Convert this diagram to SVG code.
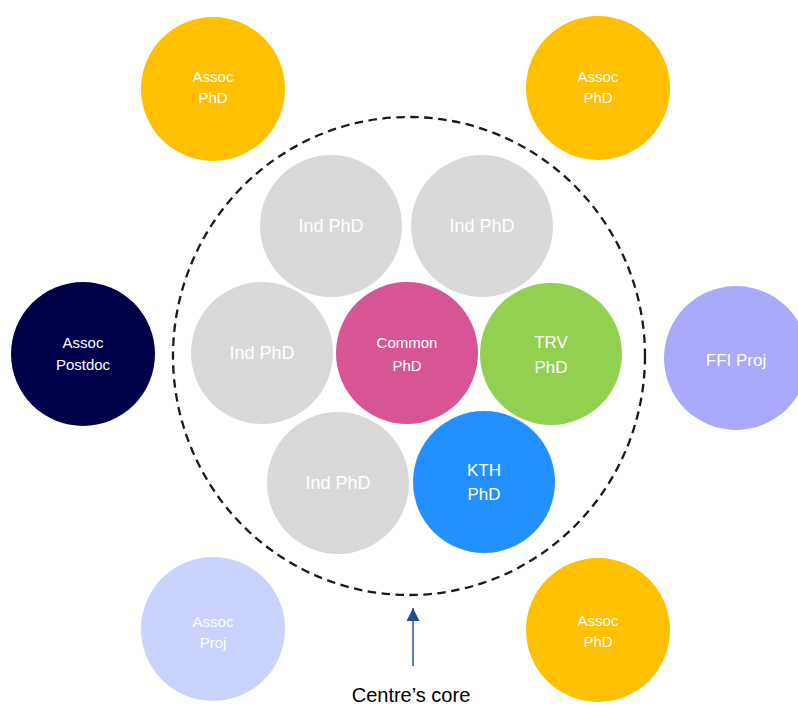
<svg xmlns="http://www.w3.org/2000/svg" width="798" height="706" viewBox="0 0 798 706">
<defs>
<style>
.lbl{font-family:"Liberation Sans",Arial,sans-serif;fill:#ffffff;text-anchor:middle}
.s15{font-size:15px}
.s17{font-size:17px}
.s18{font-size:18px}
.yellow{fill:#FFC000}
.gray{fill:#D9D9D9}
</style>
<marker id="ah" viewBox="0 0 10 10" refX="10" refY="5" markerWidth="13" markerHeight="14" markerUnits="userSpaceOnUse" orient="auto">
<path d="M0,0 L10,5 L0,10 Z" fill="#1F4E99"/>
</marker>
</defs>
<rect width="798" height="706" fill="#ffffff"/>

<g id="core-boundary">
<ellipse cx="409" cy="356" rx="236" ry="239" fill="none" stroke="#1a1a1a" stroke-width="2.3" stroke-dasharray="8.5 5.5"/>
</g>

<g id="assoc-phd-tl"><circle class="yellow" cx="213" cy="89" r="72"/><text class="lbl s15" x="213" y="82">Assoc</text><text class="lbl s15" x="213" y="103">PhD</text></g>
<g id="assoc-phd-tr"><circle class="yellow" cx="598" cy="88" r="72"/><text class="lbl s15" x="598" y="82">Assoc</text><text class="lbl s15" x="598" y="103">PhD</text></g>
<g id="assoc-postdoc"><circle fill="#00004A" cx="83" cy="354" r="72"/><text class="lbl s15" x="83" y="348">Assoc</text><text class="lbl s15" x="83" y="370">Postdoc</text></g>
<g id="ffi-proj"><circle fill="#AAAAFC" cx="736" cy="358" r="72"/><text class="lbl s17" x="736" y="366">FFI Proj</text></g>
<g id="assoc-proj"><circle fill="#C9D3FD" cx="213" cy="629" r="72"/><text class="lbl s15" x="213" y="627">Assoc</text><text class="lbl s15" x="213" y="648">Proj</text></g>
<g id="assoc-phd-br"><circle class="yellow" cx="598" cy="630" r="72"/><text class="lbl s15" x="598" y="626">Assoc</text><text class="lbl s15" x="598" y="647">PhD</text></g>

<g id="ind-phd-1"><circle class="gray" cx="331" cy="226" r="71"/><text class="lbl s18" x="331" y="232">Ind PhD</text></g>
<g id="ind-phd-2"><circle class="gray" cx="482" cy="226" r="71"/><text class="lbl s18" x="482" y="232">Ind PhD</text></g>
<g id="ind-phd-3"><circle class="gray" cx="262" cy="353" r="71"/><text class="lbl s18" x="262" y="359">Ind PhD</text></g>
<g id="ind-phd-4"><circle class="gray" cx="338" cy="483" r="71"/><text class="lbl s18" x="338" y="489">Ind PhD</text></g>
<g id="common-phd"><circle fill="#D85595" cx="407" cy="353" r="71"/><text class="lbl s15" x="407" y="348">Common</text><text class="lbl s15" x="407" y="371">PhD</text></g>
<g id="trv-phd"><circle fill="#92D050" cx="551" cy="354" r="71"/><text class="lbl s17" x="551" y="348">TRV</text><text class="lbl s17" x="551" y="373">PhD</text></g>
<g id="kth-phd"><circle fill="#2291FF" cx="484" cy="482" r="71"/><text class="lbl s17" x="484" y="476">KTH</text><text class="lbl s17" x="484" y="500">PhD</text></g>

<g id="connectors">
<line x1="413" y1="666" x2="413" y2="608" stroke="#3C73B8" stroke-width="1.8" marker-end="url(#ah)"/>
</g>
<g id="caption"><text x="411" y="702" font-family="Liberation Sans, Arial, sans-serif" font-size="20" fill="#000" text-anchor="middle">Centre’s core</text></g>
</svg>
